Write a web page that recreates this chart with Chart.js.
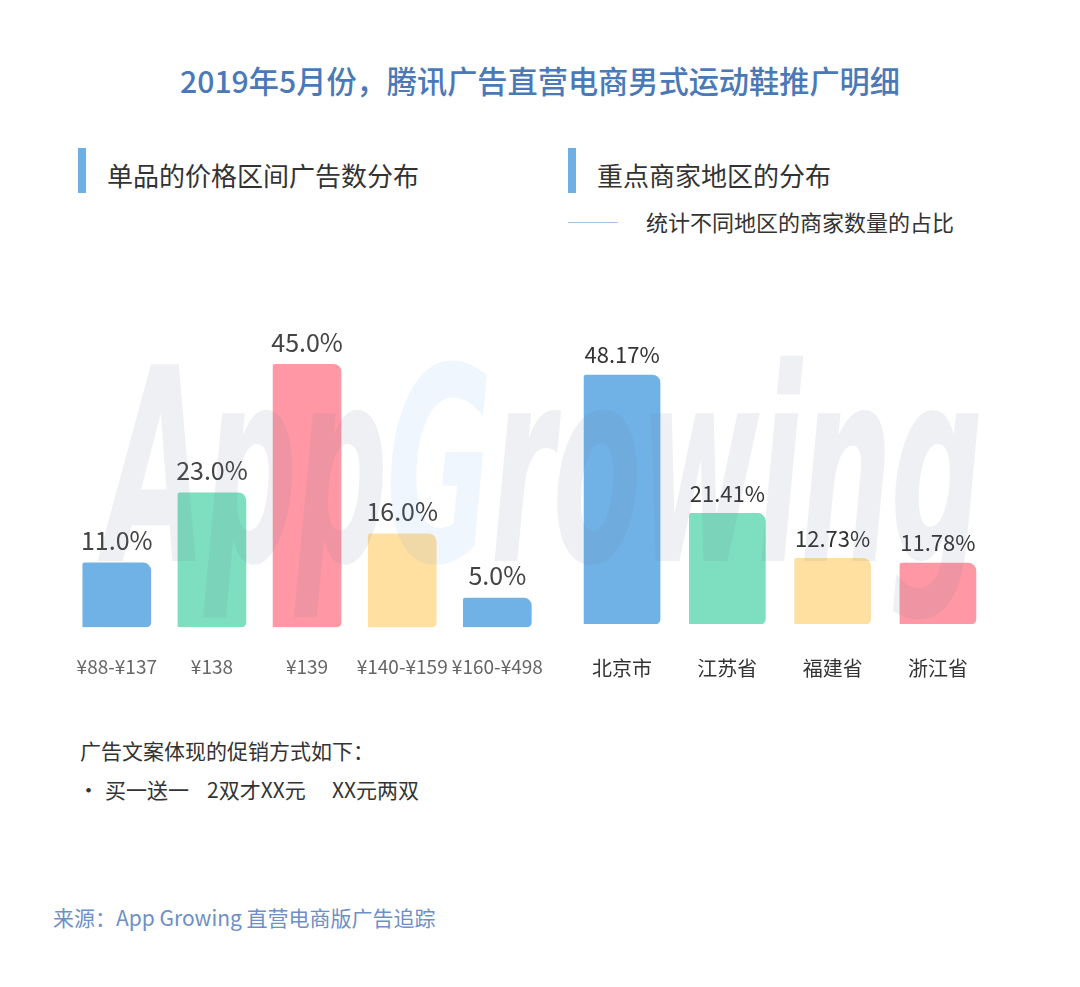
<!DOCTYPE html>
<html>
<head>
<meta charset="utf-8">
<script src="https://cdn.jsdelivr.net/npm/chart.js@4.4.1/dist/chart.umd.min.js"></script>
<style>
  body { margin: 0; background: #fff; }
  #page { position: relative; width: 1080px; height: 987px; overflow: hidden; background: #fff;
          font-family: "Noto Sans CJK SC", "Noto Sans", sans-serif; color: #333; }
  .txt { position: absolute; white-space: nowrap; }
  .mark { position: absolute; width: 8px; height: 45px; background: #6FB0E4; }
  canvas { position: absolute; }
  #wm { position: absolute; left: 106px; top: 318px; font-family: "DejaVu Sans"; font-weight: bold;
        font-style: oblique; font-size: 270px; line-height: 300px; color: rgba(110,120,145,0.11);
        transform-origin: 0 0; transform: scale(0.48, 1); letter-spacing: -4px; pointer-events: none; }
  #wm span { color: rgba(90,150,230,0.09); }
</style>
</head>
<body>
<div id="page">
  <div class="txt" style="left:0;width:1080px;text-align:center;top:63px;font-size:30.2px;line-height:34px;color:#4B79B8;font-weight:500;">2019年5月份，腾讯广告直营电商男式运动鞋推广明细</div>

  <div class="mark" style="left:78px;top:148px;"></div>
  <div class="txt" style="left:107px;top:160px;font-size:26px;line-height:30px;">单品的价格区间广告数分布</div>

  <div class="mark" style="left:568px;top:148px;"></div>
  <div class="txt" style="left:597px;top:160px;font-size:26px;line-height:30px;">重点商家地区的分布</div>
  <div style="position:absolute;left:568px;top:222px;width:50px;height:1px;background:#9CC3E8;"></div>
  <div class="txt" style="left:646px;top:208px;font-size:22px;line-height:26px;">统计不同地区的商家数量的占比</div>

  <canvas id="priceChart" width="522" height="428" style="left:49px;top:300px;"></canvas>
  <canvas id="regionChart" width="440" height="433" style="left:560px;top:300px;"></canvas>

  <div id="wm">App<span>G</span>rowing</div>

  <div class="txt" style="left:80px;top:737px;font-size:21px;line-height:26px;">广告文案体现的促销方式如下：</div>
  <div class="txt" style="left:78px;top:776px;font-size:21px;line-height:26px;">•</div>
  <div class="txt" style="left:105px;top:776px;font-size:21px;line-height:26px;">买一送一</div>
  <div class="txt" style="left:207px;top:776px;font-size:21px;line-height:26px;">2双才XX元</div>
  <div class="txt" style="left:332px;top:776px;font-size:21px;line-height:26px;">XX元两双</div>

  <div class="txt" style="left:53px;top:904px;font-size:21px;line-height:26px;color:#6E8FC5;">来源：App Growing 直营电商版广告追踪</div>
</div>

<script>
// price range chart
const priceLabels = ['¥88-¥137', '¥138', '¥139', '¥140-¥159', '¥160-¥498'];
const priceShares = [11.0, 23.0, 45.0, 16.0, 5.0];
const priceColors = ['#70B2E6', '#7DDFBF', '#FF98A4', '#FFE0A0', '#70B2E6'];

// region chart
const regionLabels = ['北京市', '江苏省', '福建省', '浙江省'];
const regionShares = [48.17, 21.41, 12.73, 11.78];
const regionColors = ['#70B2E6', '#7DDFBF', '#FFE0A0', '#FF98A4'];

const FONT = '"Noto Sans CJK SC", "Noto Sans", sans-serif';

// draws the % value above each bar
const valueLabels = {
    id: 'valueLabels',
    afterDatasetsDraw(chart, args, opts) {
        const ctx = chart.ctx;
        const meta = chart.getDatasetMeta(0);
        const data = chart.data.datasets[0].data;
        ctx.save();
        ctx.font = opts.size + 'px ' + FONT;
        ctx.fillStyle = opts.color;
        ctx.textAlign = 'center';
        ctx.textBaseline = 'middle';
        meta.data.forEach(function (bar, i) {
            ctx.fillText(data[i].toFixed(opts.digits) + '%', bar.x, bar.y - opts.gap);
        });
        ctx.restore();
    }
};

function makeChart(id, labels, values, colors, cfg) {
    return new Chart(document.getElementById(id), {
        type: 'bar',
        data: {
            labels: labels,
            datasets: [{
                data: values,
                backgroundColor: colors,
                barThickness: cfg.barWidth,
                borderSkipped: false,
                borderRadius: { topLeft: 2, topRight: 8, bottomRight: 5, bottomLeft: 0 }
            }]
        },
        options: {
            responsive: false,
            animation: false,
            layout: { padding: cfg.padding },
            plugins: {
                legend: { display: false },
                tooltip: { enabled: false },
                valueLabels: cfg.labels
            },
            scales: {
                x: {
                    grid: { display: false, drawTicks: false },
                    border: { display: false },
                    ticks: {
                        padding: cfg.tickPad,
                        color: cfg.tickColor,
                        font: { family: FONT, size: cfg.tickSize },
                        maxRotation: 0,
                        autoSkip: false
                    }
                },
                y: {
                    display: false,
                    min: 0,
                    max: cfg.yMax
                }
            }
        },
        plugins: [valueLabels]
    });
}

makeChart('priceChart', priceLabels, priceShares, priceColors, {
    barWidth: 68,
    padding: { left: 8, right: 14, top: 0, bottom: 22 },
    tickPad: 28,
    tickColor: '#666',
    tickSize: 19,
    yMax: 56,
    labels: { size: 25, color: '#444', gap: 22, digits: 1 }
});

makeChart('regionChart', regionLabels, regionShares, regionColors, {
    barWidth: 76,
    padding: { left: 3, right: 7, top: 0, bottom: 21 },
    tickPad: 32,
    tickColor: '#333',
    tickSize: 20,
    yMax: 62.7,
    labels: { size: 22, color: '#333', gap: 20, digits: 2 }
});
</script>
</body>
</html>
